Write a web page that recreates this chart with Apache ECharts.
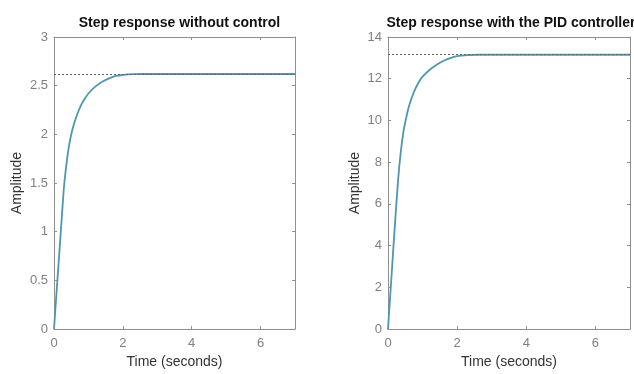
<!DOCTYPE html>
<html>
<head>
<meta charset="utf-8">
<script src="https://cdn.jsdelivr.net/npm/echarts@6/dist/echarts.min.js"></script>
<style>
html,body{margin:0;padding:0;background:#fff;}
#c{width:634px;height:374px;}
</style>
</head>
<body>
<div id="c"></div>
<script>
// Data
var titles = ['Step response without control', 'Step response with the PID controller'];
var xTicks = [0, 2, 4, 6];
var yTicksLeft = [0, 0.5, 1, 1.5, 2, 2.5, 3];
var yTicksRight = [0, 2, 4, 6, 8, 10, 12, 14];

var timeLeft = [0, 0.1, 0.2, 0.27, 0.3, 0.4, 0.5, 0.6, 0.7, 0.8, 0.9, 1.0, 1.2, 1.4, 1.6, 1.8, 2.0, 2.3, 2.6, 7];
var ampLeft  = [0, 0.51, 1.01, 1.37, 1.5, 1.8, 2.0, 2.13, 2.23, 2.31, 2.37, 2.42, 2.49, 2.54, 2.575, 2.60, 2.61, 2.618, 2.62, 2.62];

var timeRight = [0, 0.1, 0.2, 0.29, 0.37, 0.45, 0.51, 0.6, 0.7, 0.8, 0.9, 1.0, 1.2, 1.43, 1.6, 1.8, 2.0, 2.3, 2.6, 7];
var ampRight  = [0, 2.5, 5.0, 7.1, 8.5, 9.5, 10.0, 10.65, 11.15, 11.55, 11.87, 12.1, 12.42, 12.69, 12.85, 12.99, 13.08, 13.13, 13.15, 13.15];

var finalValues = [2.62, 13.15];

function pairs(xs, ys) { return xs.map(function (x, i) { return [x, ys[i]]; }); }

var FONT = 'Liberation Sans, Arial, sans-serif';
var AXIS_COLOR = '#8f8f8f';
var LABEL_COLOR = '#808080';
var LINE_COLOR = '#4f97ac';

function xAxisMain(gi) {
  return {
    type: 'value', gridIndex: gi, min: 0, max: 7, interval: 2,
    name: 'Time (seconds)', nameLocation: 'middle', nameGap: 22,
    nameTextStyle: { color: '#333', fontSize: 14, fontFamily: FONT },
    axisLine: { show: true, onZero: false, lineStyle: { color: AXIS_COLOR, width: 1 } },
    axisTick: { show: true, inside: true, length: 3, lineStyle: { color: AXIS_COLOR } },
    axisLabel: { color: LABEL_COLOR, fontSize: 13, fontFamily: FONT, margin: 8,
      showMaxLabel: false },
    splitLine: { show: false }
  };
}
function xAxisTop(gi) {
  return {
    type: 'value', gridIndex: gi, min: 0, max: 7, interval: 2, position: 'top',
    axisLine: { show: true, onZero: false, lineStyle: { color: AXIS_COLOR, width: 1 } },
    axisTick: { show: true, inside: true, length: 3, lineStyle: { color: AXIS_COLOR } },
    axisLabel: { show: false }, splitLine: { show: false }
  };
}
function yAxisMain(gi, max, interval, gap) {
  return {
    type: 'value', gridIndex: gi, min: 0, max: max, interval: interval,
    name: 'Amplitude', nameLocation: 'middle', nameGap: gap,
    nameTextStyle: { color: '#333', fontSize: 14, fontFamily: FONT },
    axisLine: { show: true, onZero: false, lineStyle: { color: AXIS_COLOR, width: 1 } },
    axisTick: { show: true, inside: true, length: 3, lineStyle: { color: AXIS_COLOR } },
    axisLabel: { color: LABEL_COLOR, fontSize: 13, fontFamily: FONT, margin: 6 },
    splitLine: { show: false }
  };
}
function yAxisRight(gi, max, interval) {
  return {
    type: 'value', gridIndex: gi, min: 0, max: max, interval: interval, position: 'right',
    axisLine: { show: true, onZero: false, lineStyle: { color: AXIS_COLOR, width: 1 } },
    axisTick: { show: true, inside: true, length: 3, lineStyle: { color: AXIS_COLOR } },
    axisLabel: { show: false }, splitLine: { show: false }
  };
}

function stepSeries(xi, yi, data, finalV) {
  return {
    type: 'line', xAxisIndex: xi, yAxisIndex: yi, data: data,
    showSymbol: false, smooth: 0.3, animation: false,
    lineStyle: { color: LINE_COLOR, width: 1.8 },
    markLine: {
      silent: true, symbol: 'none', label: { show: false }, animation: false,
      lineStyle: { color: '#666', type: [2, 2], width: 1 },
      data: [[{ coord: [0, finalV] }, { coord: [7, finalV] }]]
    },
    z: 3
  };
}

var chart = echarts.init(document.getElementById('c'), null, { renderer: 'canvas' });
chart.setOption({
  backgroundColor: '#fff',
  animation: false,
  title: [
    { text: titles[0], left: 174.5, top: 11, textAlign: 'center',
      textStyle: { fontSize: 14, fontWeight: 'bold', color: '#111', fontFamily: FONT } },
    { text: titles[1], left: 506, top: 11, textAlign: 'center',
      textStyle: { fontSize: 14, fontWeight: 'bold', color: '#111', fontFamily: FONT } }
  ],
  grid: [
    { left: 54, right: 339, top: 37, bottom: 37 },
    { left: 388, right: 4, top: 37, bottom: 37 }
  ],
  xAxis: [xAxisMain(0), xAxisTop(0), xAxisMain(1), xAxisTop(1)],
  yAxis: [yAxisMain(0, 3, 0.5, 30), yAxisRight(0, 3, 0.5), yAxisMain(1, 14, 2, 26), yAxisRight(1, 14, 2)],
  series: [
    stepSeries(0, 0, pairs(timeLeft, ampLeft), finalValues[0]),
    stepSeries(2, 2, pairs(timeRight, ampRight), finalValues[1])
  ]
});
</script>
</body>
</html>
